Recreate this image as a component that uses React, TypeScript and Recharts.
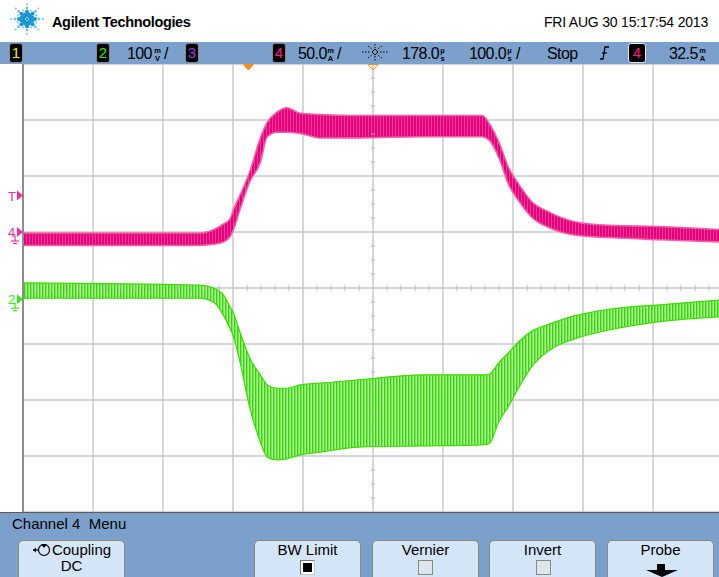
import React from 'react';
import { ComposedChart, Area, XAxis, YAxis, CartesianGrid, ReferenceLine, ReferenceDot } from 'recharts';

// Time axis (µs): 100 µs/div, delay 178 µs at screen centre
const timeUs = [-322, -70, -50, -36, -26, -22, -12, 2, 17, 27, 41, 55, 74, 102, 158, 250, 334, 344, 358, 372, 387, 405, 429, 468, 515, 587, 678];
// Channel 4 (mA, 50 mA/div) envelope of the ripple
const ch4LowMA = [-12, -12, -11, -9, -4, 1, 20, 45, 62, 85, 89, 89, 88, 84, 84, 85, 85, 82, 66, 42, 27, 13, 4, -3, -5, -7, -9];
const ch4HighMA = [-1, -1, 2, 7, 12, 19, 33, 54, 84, 98, 107, 111, 106, 105, 104, 104, 104, 97, 80, 57, 42, 27, 18, 9, 6, 5, 2];
// Channel 2 (mV, 100 mV/div) envelope of the ripple
const ch2LowMV = [2, 2, -5, -28, -53, -64, -112, -194, -255, -282, -287, -285, -278, -273, -264, -262, -260, -258, -218, -190, -156, -120, -92, -70, -55, -40, -31];
const ch2HighMV = [29, 25, 20, 8, -14, -23, -59, -105, -135, -153, -159, -159, -153, -150, -144, -135, -135, -134, -113, -95, -75, -57, -45, -29, -18, -10, -1];

const gridTimes = [-322, -222, -122, -22, 78, 178, 278, 378, 478, 578, 678];
const gridCh4 = [-250, -200, -150, -100, -50, 0, 50, 100, 150];
const minorTimes = [-302, -282, -262, -242, -202, -182, -162, -142, -102, -82, -62, -42, -2, 18, 38, 58, 98, 118, 138, 158, 198, 218, 238, 258, 298, 318, 338, 358, 398, 418, 438, 458, 498, 518, 538, 558, 598, 618, 638, 658];
const minorCh4 = [-237.5, -225, -212.5, -187.5, -175, -162.5, -137.5, -125, -112.5, -87.5, -75, -62.5, -37.5, -25, -12.5, 12.5, 25, 37.5, 62.5, 75, 87.5, 112.5, 125, 137.5];

const triggerLevelMA = 32.5;

const table = timeUs.map((t, i) => ({
  t,
  ch4: [ch4LowMA[i], ch4HighMA[i]],
  ch2: [ch2LowMV[i], ch2HighMV[i]],
}));

const FONT = '"Liberation Sans", Arial, "DejaVu Sans", sans-serif';
const BAR = '#7ca0cc';

const Stack = ({ left, top, a, b }: { left: number; top: number; a: string; b: string }) => (
  <svg width={9} height={17} style={{ position: 'absolute', left, top }}>
    <text x={4.5} y={7} fontSize={7.5} fontWeight="bold" textAnchor="middle" fontFamily={FONT}>{a}</text>
    <text x={4.5} y={15} fontSize={7.5} fontWeight="bold" textAnchor="middle" fontFamily={FONT}>{b}</text>
  </svg>
);

const ChBox = ({ left, n, color, w = 12, border = '#8a8a8a' }: { left: number; n: string; color: string; w?: number; border?: string }) => (
  <div style={{ position: 'absolute', left, top: 43, width: w, height: 18, background: '#000', border: `1px solid ${border}`, borderRadius: 3, color, fontSize: 15, lineHeight: '18px', textAlign: 'center', fontFamily: FONT }}>{n}</div>
);

const T = ({ left, top, children, size = 16 }: any) => (
  <div style={{ position: 'absolute', left, top, fontSize: size, lineHeight: '18px', letterSpacing: -0.6, whiteSpace: 'nowrap' }}>{children}</div>
);

const Button = ({ left, label, children }: any) => (
  <div style={{ position: 'absolute', left, top: 540, width: 107, height: 44, background: '#d4e5f8', border: '1px solid #8b8a72', borderRadius: 5, boxSizing: 'border-box', textAlign: 'center', fontSize: 15, lineHeight: '16px' }}>
    <div style={{ marginTop: 1 }}>{label}</div>
    {children}
  </div>
);

const Logo = () => {
  const dots: any[] = [];
  for (let k = 0; k < 16; k++) {
    const a = (k * Math.PI) / 8;
    const main = k % 2 === 0;
    const radii = main ? [4, 8, 12, 16] : [6, 10];
    radii.forEach((r, j) => {
      const size = main ? [2.3, 2.0, 1.5, 1.0][j] : [1.5, 1.0][j];
      dots.push(<circle key={`${k}-${j}`} cx={27 + r * Math.cos(a)} cy={19 + r * 0.92 * Math.sin(a)} r={size} fill={r < 9 ? '#1a95d2' : '#74c4ec'} />);
    });
  }
  return (
    <svg width={50} height={40} style={{ position: 'absolute', left: 0, top: 0 }}>
      <circle cx={27} cy={19} r={1.2} fill="#1a95d2" />
      {dots}
    </svg>
  );
};

const leftMarker = (label: string, color: string, ground: boolean) => (props: any) => {
  const { cx, cy } = props;
  return (
    <g>
      <text x={cx - 15} y={cy + 5} fontSize={13} fill={color} fontFamily={FONT}>{label}</text>
      <path d={`M${cx - 6},${cy - 5} L${cx},${cy} L${cx - 6},${cy + 5} Z`} fill={color} />
      {ground && (
        <g stroke={color} strokeWidth={1.2}>
          <line x1={cx - 8} y1={cy + 3} x2={cx - 8} y2={cy + 9} />
          <line x1={cx - 12} y1={cy + 9} x2={cx - 4} y2={cy + 9} />
          <line x1={cx - 10} y1={cy + 11.5} x2={cx - 6} y2={cy + 11.5} />
        </g>
      )}
    </g>
  );
};

const topMarker = (filled: boolean) => (props: any) => {
  const { cx, cy } = props;
  return (
    <path d={`M${cx - 5},${cy + 0.5} L${cx + 5},${cy + 0.5} L${cx},${cy + 6} Z`} fill={filled ? '#ff8c1a' : 'none'} stroke="#ff8c1a" strokeWidth={1} />
  );
};

export default function App() {
  return (
    <div style={{ position: 'absolute', left: 0, top: 0, width: 719, height: 577, overflow: 'hidden', background: '#fff', fontFamily: FONT, color: '#000' }}>
      {/* chart */}
      <div style={{ position: 'absolute', left: 0, top: 0 }}>
        <ComposedChart width={730} height={577} data={table} margin={{ top: 64, right: 7, bottom: 65, left: 23 }}>
          <defs>
            <pattern id="greenStripes" width="3" height="4" patternUnits="userSpaceOnUse">
              <rect width="3" height="4" fill="#aef09a" />
              <rect width="1.4" height="4" fill="#33d800" />
            </pattern>
            <pattern id="pinkStripes" width="3" height="4" patternUnits="userSpaceOnUse">
              <rect width="3" height="4" fill="#e6007e" />
              <rect x="2" width="1" height="4" fill="#ee3d97" />
            </pattern>
          </defs>
          <XAxis dataKey="t" type="number" domain={[-322, 678]} ticks={gridTimes} hide allowDataOverflow />
          <YAxis yAxisId="ch4" type="number" domain={[-250, 150]} ticks={gridCh4} hide allowDataOverflow />
          <YAxis yAxisId="ch2" type="number" domain={[-380, 420]} hide allowDataOverflow />
          <CartesianGrid yAxisId="ch4" stroke="#c8c8c8" strokeWidth={1.5} horizontalValues={gridCh4} verticalValues={gridTimes} />
          {minorTimes.map((t) => (
            <ReferenceLine key={`mt${t}`} yAxisId="ch4" segment={[{ x: t, y: -52.5 }, { x: t, y: -47.5 }]} stroke="#b4b4b4" strokeWidth={1} />
          ))}
          {minorCh4.map((v) => (
            <ReferenceLine key={`mv${v}`} yAxisId="ch4" segment={[{ x: 175, y: v }, { x: 181, y: v }]} stroke="#b4b4b4" strokeWidth={1} />
          ))}
          <ReferenceLine yAxisId="ch4" x={-322} stroke="#8c8c8c" strokeWidth={2} />
          <Area yAxisId="ch2" dataKey="ch2" type="monotone" stroke="#3ddc00" strokeWidth={1.2} fill="url(#greenStripes)" fillOpacity={1} isAnimationActive={false} dot={false} activeDot={false} />
          <Area yAxisId="ch4" dataKey="ch4" type="monotone" stroke="#f260a8" strokeWidth={1.5} fill="url(#pinkStripes)" fillOpacity={1} isAnimationActive={false} dot={false} activeDot={false} />
          <ReferenceDot yAxisId="ch4" x={-322} y={triggerLevelMA} shape={leftMarker('T', '#f0309a', false)} />
          <ReferenceDot yAxisId="ch4" x={-322} y={0} shape={leftMarker('4', '#f0309a', true)} />
          <ReferenceDot yAxisId="ch2" x={-322} y={0} shape={leftMarker('2', '#3ae81a', true)} />
          <ReferenceDot yAxisId="ch4" x={0} y={150} shape={topMarker(true)} />
          <ReferenceDot yAxisId="ch4" x={178} y={150} shape={topMarker(false)} />
        </ComposedChart>
      </div>

      {/* header */}
      <Logo />
      <div style={{ position: 'absolute', left: 52, top: 14, fontSize: 14.5, lineHeight: '16px', fontWeight: 'bold', letterSpacing: -0.35 }}>Agilent Technologies</div>
      <div style={{ position: 'absolute', right: 11, top: 14, fontSize: 14, lineHeight: '16px', letterSpacing: -0.2 }}>FRI AUG 30 15:17:54 2013</div>

      {/* status bar */}
      <div style={{ position: 'absolute', left: 0, top: 42, width: 719, height: 22, background: BAR }} />
      <ChBox left={9} n="1" color="#f0f000" />
      <ChBox left={96} n="2" color="#22ee00" />
      <T left={127} top={45}>100</T>
      <Stack left={153} top={46} a="m" b="V" />
      <T left={164} top={45}>/</T>
      <ChBox left={185} n="3" color="#a030e0" />
      <ChBox left={272} n="4" color="#ff1a8c" />
      <T left={298} top={45}>50.0</T>
      <Stack left={326} top={46} a="m" b="A" />
      <T left={337} top={45}>/</T>
      <svg width={28} height={20} style={{ position: 'absolute', left: 361, top: 43 }}>
        <g stroke="#000" strokeWidth={1} strokeDasharray="1.5 1.5">
          <line x1={1} y1={9} x2={9} y2={9} />
          <line x1={19} y1={9} x2={27} y2={9} />
          <line x1={14} y1={1} x2={14} y2={5} />
          <line x1={14} y1={13} x2={14} y2={18} />
          <line x1={7} y1={3} x2={11} y2={6} />
          <line x1={21} y1={3} x2={17} y2={6} />
          <line x1={7} y1={15} x2={11} y2={12} />
          <line x1={21} y1={15} x2={17} y2={12} />
        </g>
        <path d="M14,6 L17,9 L14,12 L11,9 Z" fill="none" stroke="#000" strokeWidth={1} />
      </svg>
      <T left={402} top={45}>178.0</T>
      <Stack left={438} top={46} a="µ" b="s" />
      <T left={469} top={45}>100.0</T>
      <Stack left={505} top={46} a="µ" b="s" />
      <T left={516} top={45}>/</T>
      <T left={547} top={45}>Stop</T>
      <svg width={12} height={18} style={{ position: 'absolute', left: 599, top: 44 }}>
        <path d="M1,15 L4,15 L6,3 L10,3" fill="none" stroke="#000" strokeWidth={1.3} />
        <line x1={3} y1={9} x2={8} y2={9} stroke="#000" strokeWidth={1.2} />
      </svg>
      <ChBox left={628} n="4" color="#ff1a8c" w={16} border="#e8e8e8" />
      <T left={669} top={45}>32.5</T>
      <Stack left={698} top={46} a="m" b="A" />

      {/* menu */}
      <div style={{ position: 'absolute', left: 0, top: 512, width: 719, height: 65, background: BAR, borderTop: '1px solid #5c5c5c', boxSizing: 'border-box' }} />
      <div style={{ position: 'absolute', left: 12, top: 515, fontSize: 15, lineHeight: '17px', whiteSpace: 'pre' }}>Channel 4  Menu</div>
      <Button left={18} label={<span><svg width={20} height={14} style={{ verticalAlign: '-2px' }}><line x1={1} y1={7} x2={7} y2={7} stroke="#000" strokeWidth={1.2} /><path d="M1,7 L4,4.5 L4,9.5 Z" fill="#000" /><circle cx={12} cy={7} r={5.5} fill="none" stroke="#000" strokeWidth={1.2} /><path d="M9,1 L15,1 L12,5 Z" fill="#000" /></svg>Coupling</span>}>
        <div style={{ marginTop: 0 }}>DC</div>
      </Button>
      <Button left={254} label="BW Limit">
        <div style={{ position: 'absolute', left: 45, top: 19, width: 15, height: 15, background: '#fff', borderTop: '1px solid #7a7a6a', borderLeft: '1px solid #7a7a6a', borderRight: '1px solid #c8c8c0', borderBottom: '1px solid #c8c8c0', boxSizing: 'border-box' }}>
          <div style={{ position: 'absolute', left: 2, top: 2, width: 9, height: 9, background: '#000' }} />
        </div>
      </Button>
      <Button left={372} label="Vernier">
        <div style={{ position: 'absolute', left: 45, top: 19, width: 15, height: 15, background: '#dde6ef', border: '1px solid #8b8a72', boxSizing: 'border-box' }} />
      </Button>
      <Button left={489} label="Invert">
        <div style={{ position: 'absolute', left: 46, top: 19, width: 15, height: 15, background: '#dde6ef', border: '1px solid #8b8a72', boxSizing: 'border-box' }} />
      </Button>
      <Button left={607} label="Probe">
        <svg width={34} height={14} style={{ position: 'absolute', left: 37, top: 23 }}>
          <rect x={12} y={0} width={8} height={6} fill="#000" />
          <path d="M1,6 L33,6 L17,13 Z" fill="#000" />
        </svg>
      </Button>
    </div>
  );
}
